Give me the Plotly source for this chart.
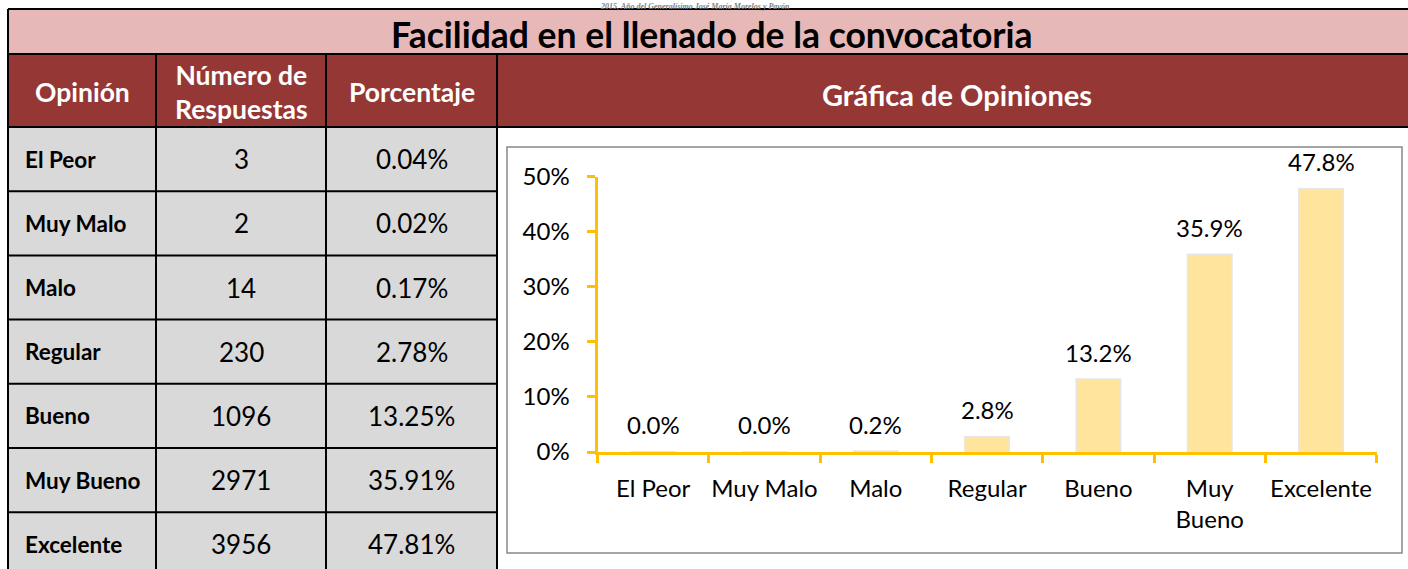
import plotly.graph_objects as go

# ---------------- data ----------------
opiniones = ["El Peor", "Muy Malo", "Malo", "Regular", "Bueno", "Muy Bueno", "Excelente"]
respuestas = [3, 2, 14, 230, 1096, 2971, 3956]
porcentajes = [0.04, 0.02, 0.17, 2.78, 13.25, 35.91, 47.81]

encabezados = ["Opinión", "Número de<br>Respuestas", "Porcentaje"]
titulo = "Facilidad en el llenado de la convocatoria"
titulo_grafica = "Gráfica de Opiniones"
leyenda_superior = "2015, Año del Generalísimo José María Morelos y Pavón"
y_ticks = [0, 10, 20, 30, 40, 50]

# ---------------- layout constants (pixels) ----------------
W, H = 1408, 569
FONT = "Lato"
PINK = "#E6B9B8"
DARK_RED = "#953735"
GRAY = "#D9D9D9"
GOLD = "#FFC000"


def fx(p):
    return p / W


def fy(p):
    return 1 - p / H


TABLE_L, TABLE_R = 8, W
TOP_LINE = 9
TITLE_B = 54
HEAD_B = 127
COLS = [8, 156, 326, 497]
ROW_H = 64.2

shapes = []
annotations = []


def fill(x0, y0, x1, y1, color):
    shapes.append(dict(type="rect", xref="paper", yref="paper",
                       x0=fx(x0), x1=fx(x1), y0=fy(y1), y1=fy(y0),
                       fillcolor=color, line=dict(width=0), layer="below"))


def line(x0, y0, x1, y1, color="black", lw=2):
    shapes.append(dict(type="line", xref="paper", yref="paper",
                       x0=fx(x0), x1=fx(x1), y0=fy(y0), y1=fy(y1),
                       line=dict(color=color, width=lw), layer="below"))


def text(x, y, s, size, color="black", bold=False, xanchor="center", yanchor="middle",
         family=FONT, italic=False):
    annotations.append(dict(x=fx(x), y=fy(y), xref="paper", yref="paper", text=s,
                            showarrow=False, xanchor=xanchor, yanchor=yanchor,
                            font=dict(family=family, size=size, color=color,
                                      weight="bold" if bold else "normal",
                                      style="italic" if italic else "normal")))


# motto strip above the table (kept inside the figure)
text(695, 0, leyenda_superior, 8, color="#7F7F7F", bold=True, italic=True,
     yanchor="top", family="Liberation Serif")

# title row
fill(TABLE_L, TOP_LINE, TABLE_R, TITLE_B, PINK)
text(712, 34, titulo, 35.5, bold=True)

# header row
fill(TABLE_L, TITLE_B, TABLE_R, HEAD_B, DARK_RED)
for i in range(3):
    text((COLS[i] + COLS[i + 1]) / 2, 92, encabezados[i], 26.5, color="white", bold=True)
text(957, 94, titulo_grafica, 29, color="white", bold=True)

# data rows
fill(COLS[0], HEAD_B, COLS[3], H, GRAY)
for i, (op, n, p) in enumerate(zip(opiniones, respuestas, porcentajes)):
    yc = HEAD_B + i * ROW_H + ROW_H / 2
    text(23, yc, op, 22.5, bold=True, xanchor="left")
    text((COLS[1] + COLS[2]) / 2, yc, str(n), 26)
    text((COLS[2] + COLS[3]) / 2, yc, f"{p:.2f}%", 26)

# grid lines of the table
for yl in (TOP_LINE, TITLE_B, HEAD_B):
    line(TABLE_L, yl, TABLE_R, yl)
for i in range(1, len(opiniones)):
    yl = HEAD_B + i * ROW_H
    line(COLS[0], yl, COLS[3], yl)
line(TABLE_L, TOP_LINE, TABLE_L, H)
for xc in COLS[1:]:
    line(xc, TITLE_B, xc, H)

# chart frame
shapes.append(dict(type="rect", xref="paper", yref="paper",
                   x0=fx(507), x1=fx(1402), y0=fy(553), y1=fy(147),
                   line=dict(color="#888888", width=1.5), fillcolor="rgba(0,0,0,0)",
                   layer="below"))

# ---------------- bar chart ----------------
eje_x = [o.replace("Muy Bueno", "Muy<br>Bueno") for o in opiniones]

fig = go.Figure()
fig.add_trace(go.Bar(
    x=opiniones, y=porcentajes, width=0.4,
    marker=dict(color="#FFE59C", line=dict(color="#E6E6E6", width=1.5)),
    hoverinfo="skip",
))

for op, p in zip(opiniones, porcentajes):
    annotations.append(dict(x=op, y=p, xref="x", yref="y", text=f"{p:.1f}%",
                            showarrow=False, yanchor="middle", yshift=27,
                            font=dict(family=FONT, size=24, color="black")))

X_L, X_R = 597.5, 1376.7
Y_T, Y_B = 176.7, 452

fig.update_layout(
    width=W, height=H, margin=dict(l=0, r=0, t=0, b=0, autoexpand=False),
    paper_bgcolor="white", plot_bgcolor="rgba(0,0,0,0)",
    showlegend=False, shapes=shapes, annotations=annotations,
    font=dict(family=FONT, size=24, color="black"),
    xaxis=dict(domain=[fx(X_L), fx(X_R)], type="category",
               tickvals=opiniones, ticktext=eje_x, tickangle=0, automargin=False,
               showline=True, linecolor=GOLD, linewidth=3,
               ticks="outside", tickson="boundaries", ticklen=8, tickwidth=3, tickcolor=GOLD,
               showgrid=False, zeroline=False, ticklabelstandoff=13,
               tickfont=dict(family=FONT, size=24, color="black")),
    yaxis=dict(domain=[fy(Y_B), fy(Y_T)], range=[0, 50], automargin=False,
               tickvals=y_ticks, ticktext=[f"{v}%" for v in y_ticks],
               showline=True, linecolor=GOLD, linewidth=3,
               ticks="outside", ticklen=8, tickwidth=3, tickcolor=GOLD,
               showgrid=False, zeroline=False, ticklabelstandoff=12,
               tickfont=dict(family=FONT, size=24, color="black")),
)

fig.write_html("out.html", config={"displayModeBar": False},
               post_script="document.body.style.margin='0';document.body.style.overflow='hidden';")
